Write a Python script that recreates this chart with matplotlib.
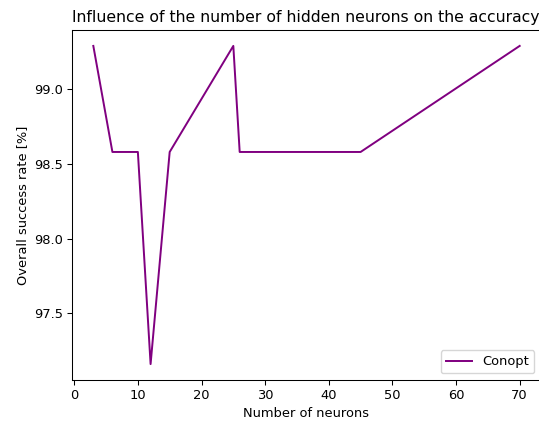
import matplotlib
matplotlib.use("Agg")
import matplotlib.pyplot as plt

neurons = [3, 6, 10, 12, 15, 25, 26, 45, 70]
accuracy = [99.29, 98.58, 98.58, 97.16, 98.58, 99.29, 98.58, 98.58, 99.29]

s = 0.94
plt.rcParams.update({
    "font.size": 10 * s,
    "axes.titlesize": 12 * s,
    "lines.linewidth": 1.5 * s,
    "axes.linewidth": 0.8 * s,
    "xtick.major.size": 3.5 * s,
    "ytick.major.size": 3.5 * s,
    "xtick.major.width": 0.8 * s,
    "ytick.major.width": 0.8 * s,
    "xtick.major.pad": 3.5 * s,
    "ytick.major.pad": 3.5 * s,
    "axes.labelpad": 4.0 * s,
    "axes.titlepad": 6.0 * s,
})

fig = plt.figure(figsize=(5.39, 4.23), dpi=100)
ax = fig.add_axes([72/539, 43/423, (541-72)/539, (380-30)/423])
ax.plot(neurons, accuracy, color="purple", label="Conopt")
ax.set_title("Influence of the number of hidden neurons on the accuracy", loc="left")
ax.set_xlabel("Number of neurons")
ax.set_ylabel("Overall success rate [%]")
ax.set_yticks([97.5, 98.0, 98.5, 99.0])
ax.legend(loc="lower right")
fig.savefig("out.png", dpi=100)
